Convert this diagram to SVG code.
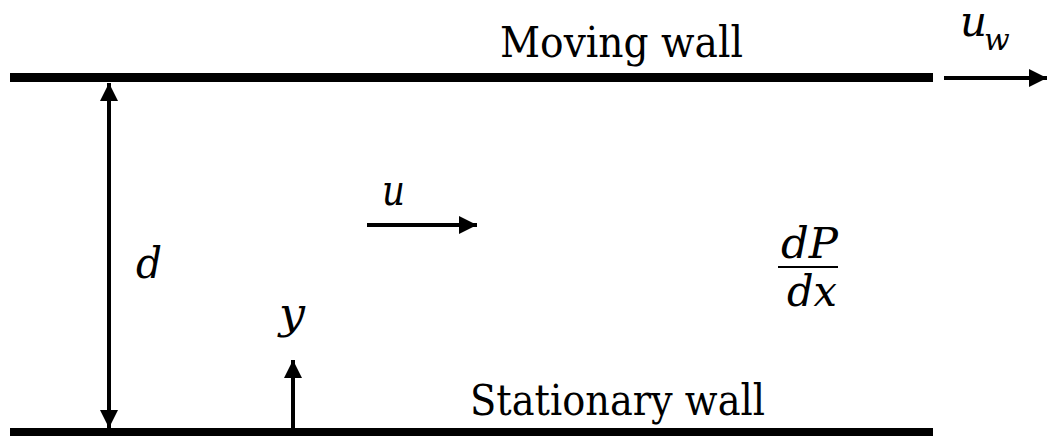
<svg xmlns="http://www.w3.org/2000/svg" width="1047" height="436" viewBox="0 0 1047 436">
<style>
text{font-family:'DejaVu Serif',serif;font-size:42px;fill:#000}
.i{font-style:italic}
.ln{stroke:#000;stroke-width:4;fill:none}
.wall{fill:#000}
</style>
<defs>
<marker id="ah" markerUnits="userSpaceOnUse" markerWidth="18" markerHeight="18" viewBox="0 0 18 18" refX="18" refY="9" orient="auto">
<path d="M0,0 L18,9 L0,18 Z" fill="#000"/>
</marker>
</defs>
<rect width="1047" height="436" fill="#fff"/>
<g id="moving-wall">
<rect class="wall" x="10" y="73" width="923" height="9"/>
<text x="500" y="57" textLength="243" lengthAdjust="spacingAndGlyphs">Moving wall</text>
</g>
<g id="stationary-wall">
<rect class="wall" x="10" y="428" width="923" height="8"/>
<text x="470" y="415" textLength="295" lengthAdjust="spacingAndGlyphs">Stationary wall</text>
</g>
<g id="labels">
<text class="i" x="960" y="36">u<tspan dx="-3" dy="14" style="font-size:30px">w</tspan></text>
<text class="i" x="382" y="205" textLength="23" lengthAdjust="spacingAndGlyphs">u</text>
<text class="i" x="136" y="278" textLength="26" lengthAdjust="spacingAndGlyphs">d</text>
<text class="i" x="279" y="328" textLength="26" lengthAdjust="spacingAndGlyphs">y</text>
<text class="i" x="781" y="258" textLength="57" lengthAdjust="spacingAndGlyphs">dP</text>
<text class="i" x="787" y="306" textLength="50" lengthAdjust="spacingAndGlyphs">dx</text>
<line x1="778" y1="267" x2="838" y2="267" stroke="#000" stroke-width="2"/>
</g>
<g id="connectors">
<line class="ln" x1="109" y1="230" x2="109" y2="83" marker-end="url(#ah)"/>
<line class="ln" x1="109" y1="230" x2="109" y2="428" marker-end="url(#ah)"/>
<line class="ln" x1="293" y1="428" x2="293" y2="360" marker-end="url(#ah)"/>
<line class="ln" x1="367" y1="225" x2="477" y2="225" marker-end="url(#ah)"/>
<line class="ln" x1="944" y1="78" x2="1047" y2="78" marker-end="url(#ah)"/>
</g>
</svg>
